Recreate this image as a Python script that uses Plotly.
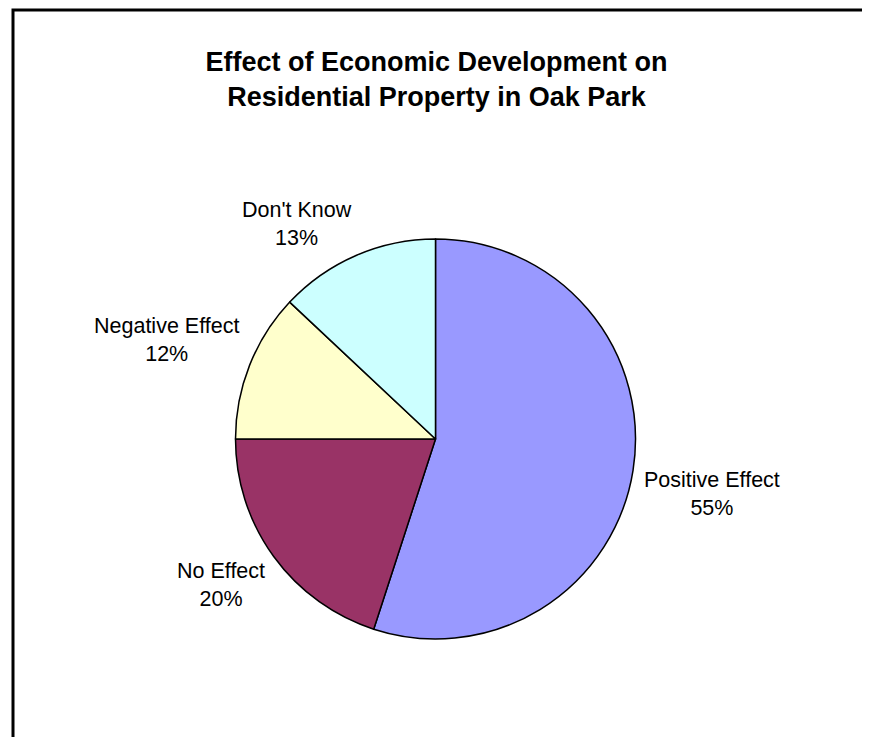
import math
import plotly.graph_objects as go

labels = ["Positive Effect", "No Effect", "Negative Effect", "Don't Know"]
values = [55, 20, 12, 13]
colors = ["#9999FF", "#993366", "#FFFFCC", "#CCFFFF"]

# figure geometry (page has an 8px body margin)
W, H = 862, 729
cx, cy, r = 427.5, 431, 200
FONT = "Liberation Sans, Arial, sans-serif"
LABEL_FS = 21.5
GAP = 11

# approximate Arial advance widths (em) used to place labels clear of the pie
CW = {"P": .667, "o": .556, "s": .5, "i": .222, "t": .278, "v": .5, "e": .556, " ": .278,
      "E": .667, "f": .278, "c": .5, "N": .722, "g": .556, "a": .556, "D": .722, "n": .556,
      "'": .191, "K": .667, "w": .722, "%": .889}


def text_w(s):
    return sum(CW.get(ch, .556) for ch in s) * LABEL_FS


fig = go.Figure(go.Pie(
    labels=labels,
    values=values,
    sort=False,
    direction="clockwise",
    rotation=0,
    marker=dict(colors=colors, line=dict(color="black", width=1.5)),
    textinfo="none",
    hoverinfo="label+percent",
    domain=dict(x=[(cx - r) / W, (cx + r) / W], y=[(H - cy - r) / H, (H - cy + r) / H]),
    showlegend=False,
))

total = sum(values)
annotations = []
cum = 0.0
for lab, v in zip(labels, values):
    mid = (cum + v / 2) / total * 2 * math.pi
    cum += v
    dx, dy = math.sin(mid), -math.cos(mid)
    pct = f"{round(v / total * 100)}%"
    w = max(text_w(lab), text_w(pct))
    h = 2.016 * LABEL_FS
    # the label's nearest corner sits just outside the rim on the slice's mid-angle
    kx, ky = cx + (r + GAP) * dx, cy + (r + GAP) * dy
    px = kx + math.copysign(w / 2, dx)
    py = ky + math.copysign(h / 2, dy)
    annotations.append(dict(
        x=px / W, y=1 - py / H, xref="paper", yref="paper",
        text=f"{lab}<br>{pct}", showarrow=False,
        xanchor="center", yanchor="middle",
        font=dict(family=FONT, size=LABEL_FS, color="black"),
    ))

fig.update_layout(
    width=W, height=H,
    margin=dict(l=0, r=0, t=0, b=0),
    paper_bgcolor="white",
    plot_bgcolor="white",
    title=dict(
        text="<b>Effect of Economic Development on<br>Residential Property in Oak Park</b>",
        x=428.5 / W, xanchor="center",
        y=1 - 63 / H, yanchor="middle",
        font=dict(family=FONT, size=27, color="black"),
    ),
    annotations=annotations,
    shapes=[dict(
        type="rect", xref="paper", yref="paper",
        x0=5 / W, x1=1.02, y0=-0.02, y1=1 - 2 / H,
        line=dict(color="black", width=3), fillcolor="rgba(0,0,0,0)",
    )],
)

fig.write_html("out.html")
